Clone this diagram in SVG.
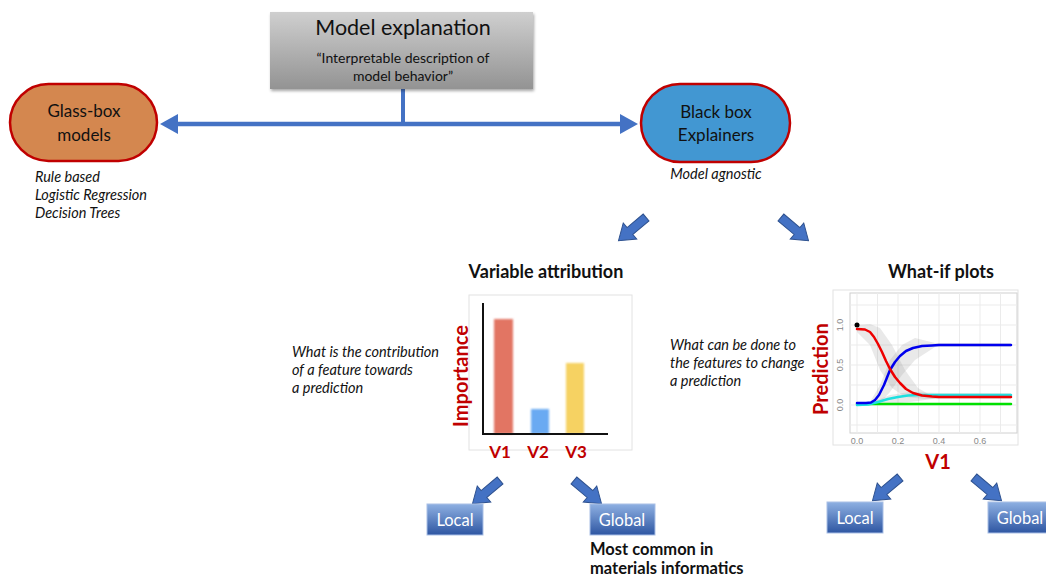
<svg xmlns="http://www.w3.org/2000/svg" width="1046" height="578" viewBox="0 0 1046 578">
<defs>
<linearGradient id="gGray" x1="0" y1="0" x2="0" y2="1"><stop offset="0" stop-color="#cfcfcf"/><stop offset="1" stop-color="#939393"/></linearGradient>
<linearGradient id="gBlue" x1="0" y1="0" x2="0" y2="1"><stop offset="0" stop-color="#8eb0e2"/><stop offset="1" stop-color="#2e56a2"/></linearGradient>
<filter id="sh" x="-10%" y="-10%" width="130%" height="140%"><feDropShadow dx="1" dy="2" stdDeviation="1.5" flood-opacity="0.35"/></filter>
<filter id="blur"><feGaussianBlur stdDeviation="0.8"/></filter>
<polygon id="blk" points="0,-4.5 -21,-4.5 -21,4.5 0,4.5 0,10.5 15,0 0,-10.5"/>
</defs>
<style>
text{font-family:Lato,"Open Sans","Liberation Sans",sans-serif;}
.c{text-anchor:middle;}
.it{font-style:italic;font-size:14.5px;fill:#111;}
.b{font-weight:bold;}
.red{fill:#c00000;font-weight:bold;}
.pill{stroke:#c00000;stroke-width:2.5;}
.blk{fill:#4472c4;stroke:#2f528f;stroke-width:1;}
.lb{fill:#fff;font-size:16.5px;}
.grid{stroke:#ebebeb;stroke-width:1;}
.tick{fill:#888;font-size:9px;font-family:"Liberation Sans",sans-serif;}
</style>
<rect width="1046" height="578" fill="#fff"/>

<g id="connectors">
<line x1="403" y1="89" x2="403" y2="124" stroke="#4472c4" stroke-width="4"/>
<line x1="176" y1="124" x2="622" y2="124" stroke="#4472c4" stroke-width="4.5"/>
<polygon points="160,124 178,114 178,134" fill="#4472c4"/>
<polygon points="638,124 620,114 620,134" fill="#4472c4"/>
<use href="#blk" class="blk" transform="translate(630,231) rotate(140)"/>
<use href="#blk" class="blk" transform="translate(797,231) rotate(40)"/>
<use href="#blk" class="blk" transform="translate(484,494) rotate(140)"/>
<use href="#blk" class="blk" transform="translate(590,494) rotate(40)"/>
<use href="#blk" class="blk" transform="translate(884,491) rotate(140)"/>
<use href="#blk" class="blk" transform="translate(990,491) rotate(40)"/>
</g>

<g id="model-explanation">
<rect x="270" y="12" width="263" height="77" fill="url(#gGray)" filter="url(#sh)"/>
<text x="403" y="35" class="c" font-size="21.5" fill="#111">Model explanation</text>
<text x="403" y="63" class="c" font-size="14" fill="#111">“Interpretable description of</text>
<text x="403" y="81" class="c" font-size="14" fill="#111">model behavior”</text>
</g>

<g id="glass-box">
<rect x="10" y="84" width="147" height="77" rx="38.5" fill="#d4874f" class="pill"/>
<text x="84" y="117" class="c" font-size="17" fill="#111">Glass-box</text>
<text x="84" y="141" class="c" font-size="17" fill="#111">models</text>
<text x="35" y="182" class="it">Rule based</text>
<text x="35" y="200" class="it">Logistic Regression</text>
<text x="35" y="218" class="it">Decision Trees</text>
</g>

<g id="black-box">
<rect x="641" y="84" width="149" height="78" rx="39" fill="#4297d2" class="pill"/>
<text x="716" y="118" class="c" font-size="17" fill="#111">Black box</text>
<text x="716" y="141" class="c" font-size="17" fill="#111">Explainers</text>
<text x="716" y="179" class="it c">Model agnostic</text>
</g>

<g id="variable-attribution">
<text x="546" y="278" class="c b" font-size="18" fill="#111">Variable attribution</text>
<rect x="469" y="295" width="163" height="155" fill="#fff" stroke="#e2e2e2"/>
<g filter="url(#blur)">
<rect x="494" y="319" width="19" height="115" fill="#e27464"/>
<rect x="531" y="409" width="18" height="25" fill="#6aaaf2"/>
<rect x="566" y="363" width="18" height="71" fill="#f6d262"/>
</g>
<polyline points="483,303 483,434 608,434" fill="none" stroke="#111" stroke-width="2"/>
<text x="468" y="376" class="c red" font-size="20" transform="rotate(-90 468 376)">Importance</text>
<text x="500" y="458" class="c red" font-size="17">V1</text>
<text x="538" y="458" class="c red" font-size="17">V2</text>
<text x="576" y="458" class="c red" font-size="17">V3</text>
<text x="292" y="357" class="it">What is the contribution</text>
<text x="292" y="375" class="it">of a feature towards</text>
<text x="292" y="393" class="it">a prediction</text>
</g>

<g id="what-if">
<text x="941" y="278" class="c b" font-size="18" fill="#111">What-if plots</text>
<rect x="833" y="290" width="185" height="155" fill="#fff" stroke="#e2e2e2"/>
<rect x="850" y="293" width="167" height="140" fill="#fff" stroke="#d0d0d0"/>
<g class="grid">
<line x1="850" y1="305" x2="1017" y2="305"/><line x1="850" y1="325" x2="1017" y2="325"/><line x1="850" y1="345" x2="1017" y2="345"/><line x1="850" y1="365" x2="1017" y2="365"/><line x1="850" y1="385" x2="1017" y2="385"/><line x1="850" y1="405" x2="1017" y2="405"/><line x1="850" y1="425" x2="1017" y2="425"/>
<line x1="857" y1="293" x2="857" y2="433"/><line x1="877.5" y1="293" x2="877.5" y2="433"/><line x1="898" y1="293" x2="898" y2="433"/><line x1="918.5" y1="293" x2="918.5" y2="433"/><line x1="939" y1="293" x2="939" y2="433"/><line x1="959.5" y1="293" x2="959.5" y2="433"/><line x1="980" y1="293" x2="980" y2="433"/><line x1="1000.5" y1="293" x2="1000.5" y2="433"/>
</g>
<g fill="#9a9a9a" fill-opacity="0.22">
<polygon points="857,325 870,324 880,328 892,345 905,370 918,388 930,395 945,396 1011,396 1011,399 945,399 925,399 905,397 892,388 880,370 870,345 857,332"/>
<polygon points="870,402 880,385 890,360 902,345 915,338 935,343 1011,343 1011,347 935,347 915,360 902,375 890,392 880,403 870,405"/>
<polygon points="870,403 890,395 910,392 940,393 1011,393 1011,398 940,398 910,402 890,404"/>
</g>
<g fill="none" stroke-width="2.5" stroke-linejoin="round" stroke-linecap="round">
<polyline stroke="#00e000" points="857,404 1011,404"/>
<polyline stroke="#1ee0e0" points="857,405 868,404.5 878,402 888,399 898,397 908,395.5 919,395 939,395 1011,395"/>
<polyline stroke="#0000ee" points="857,403 866,403 871,402.5 875,400 879,395 884,385 890,370 895,362 900,356 906,351 913,348 922,346 932,345.5 939,345 1011,345"/>
<polyline stroke="#ee0000" points="857,329 865,329.5 870,332 874,337 878,344 882,352 886,361 890,369 895,377 900,383 906,389 913,393 922,395.5 932,396.5 939,397 1011,397"/>
</g>
<circle cx="857" cy="325" r="2.5" fill="#000"/>
<text x="843" y="325" class="c tick" transform="rotate(-90 843 325)">1.0</text>
<text x="843" y="365" class="c tick" transform="rotate(-90 843 365)">0.5</text>
<text x="843" y="405" class="c tick" transform="rotate(-90 843 405)">0.0</text>
<text x="857" y="444" class="c tick">0.0</text>
<text x="898" y="444" class="c tick">0.2</text>
<text x="939" y="444" class="c tick">0.4</text>
<text x="980" y="444" class="c tick">0.6</text>
<text x="828" y="369" class="c red" font-size="20" transform="rotate(-90 828 369)">Prediction</text>
<text x="938" y="469" class="c red" font-size="20">V1</text>
<text x="670" y="350" class="it">What can be done to</text>
<text x="670" y="368" class="it">the features to change</text>
<text x="670" y="386" class="it">a prediction</text>
</g>

<g id="local-1">
<rect x="427" y="504" width="56" height="31" fill="url(#gBlue)" stroke="#a9bfe6"/>
<text x="455" y="526" class="c lb">Local</text>
</g>
<g id="global-1">
<rect x="590" y="504" width="65" height="31" fill="url(#gBlue)" stroke="#a9bfe6"/>
<text x="622" y="526" class="c lb">Global</text>
<text x="590" y="555" class="b" font-size="16.5" fill="#111">Most common in</text>
<text x="590" y="574" class="b" font-size="16.5" fill="#111">materials informatics</text>
</g>
<g id="local-2">
<rect x="827" y="502" width="56" height="31" fill="url(#gBlue)" stroke="#a9bfe6"/>
<text x="855" y="524" class="c lb">Local</text>
</g>
<g id="global-2">
<rect x="988" y="502" width="66" height="31" fill="url(#gBlue)" stroke="#a9bfe6"/>
<text x="1020" y="524" class="c lb">Global</text>
</g>
</svg>
